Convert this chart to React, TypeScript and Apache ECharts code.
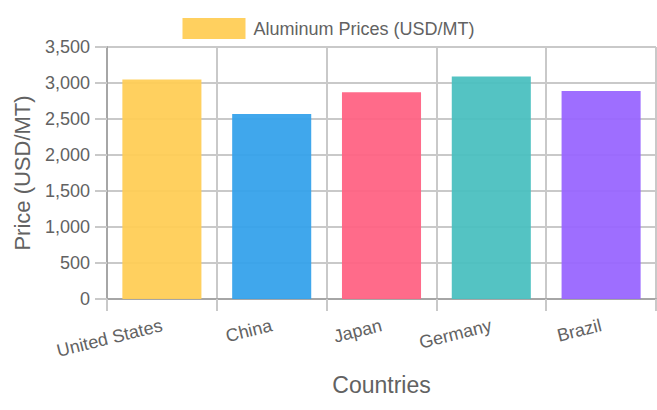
import React, { useEffect, useRef } from "react";
import * as echarts from "echarts";

const categories = ["United States", "China", "Japan", "Germany", "Brazil"];
const prices = [3050, 2570, 2870, 3090, 2890];
const barColors = ["#FFCD56", "#36A2EB", "#FF6384", "#4BC0C0", "#9966FF"];
const seriesName = "Aluminum Prices (USD/MT)";
const yTitle = "Price (USD/MT)";
const xTitle = "Countries";

const FONT = "'Liberation Sans', Arial, Helvetica, sans-serif";
const TEXT = "#626262";
const GRID = "#c9c9c9";
const AXIS = "#a6a6a6";

export default function App() {
  const ref = useRef<HTMLDivElement>(null);
  useEffect(() => {
    document.body.style.margin = "0";
    const chart = echarts.init(ref.current!, null, { renderer: "svg" });
    chart.setOption({
      animation: false,
      textStyle: { fontFamily: FONT },
      legend: {
        data: [seriesName],
        left: "center",
        top: 13,
        itemWidth: 63,
        itemHeight: 21,
        itemStyle: { color: barColors[0] },
        textStyle: { fontSize: 18, color: TEXT, fontFamily: FONT, padding: [0, 0, 0, 3] },
        icon: "rect",
      },
      grid: { left: 107, right: 1, top: 47, bottom: 111 },
      xAxis: {
        type: "category",
        data: categories,
        name: xTitle,
        nameLocation: "middle",
        nameGap: 74,
        nameTextStyle: { fontSize: 23, color: TEXT, fontFamily: FONT },
        axisLine: { show: true, lineStyle: { color: AXIS, width: 2 } },
        axisTick: { show: true, interval: 0, length: 12, lineStyle: { color: GRID, width: 2 } },
        splitLine: { show: true, interval: 0, lineStyle: { color: GRID, width: 2 } },
        axisLabel: { interval: 0, rotate: 14, fontSize: 18, color: TEXT, margin: 26, fontFamily: FONT },
      },
      yAxis: {
        type: "value",
        min: 0,
        max: 3500,
        interval: 500,
        name: yTitle,
        nameLocation: "middle",
        nameGap: 74,
        nameTextStyle: { fontSize: 22, color: TEXT, fontFamily: FONT },
        axisLine: { show: true, lineStyle: { color: AXIS, width: 2 } },
        axisTick: { show: true, length: 12, lineStyle: { color: GRID, width: 2 } },
        splitLine: { show: true, lineStyle: { color: GRID, width: 2 } },
        axisLabel: {
          fontSize: 18,
          color: TEXT,
          margin: 17,
          fontFamily: FONT,
          formatter: (v: number) => v.toLocaleString("en-US"),
        },
      },
      series: [
        {
          name: seriesName,
          type: "bar",
          data: prices.map((v, i) => ({ value: v, itemStyle: { color: barColors[i] } })),
          barWidth: "72%",
          itemStyle: { opacity: 0.95 },
        },
      ],
    });
    return () => chart.dispose();
  }, []);
  return <div ref={ref} style={{ width: 657, height: 410 }} />;
}
